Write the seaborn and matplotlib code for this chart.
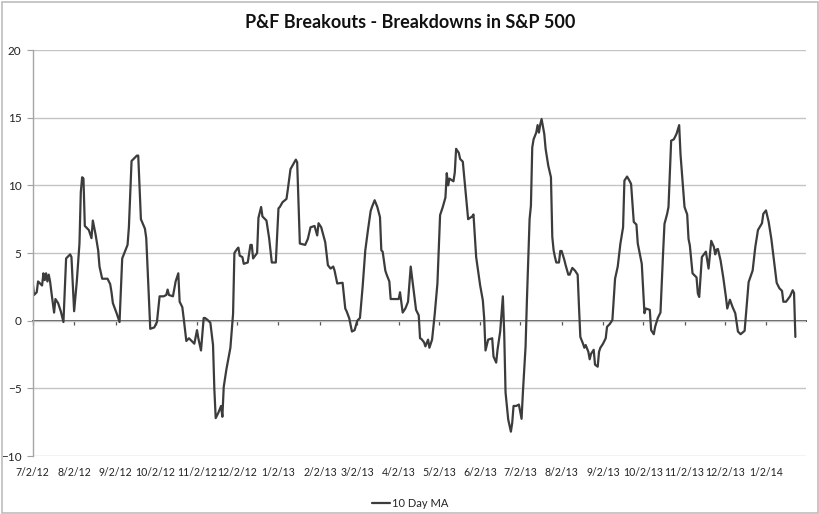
"""P&F breakouts minus breakdowns in the S&P 500, 10 day moving average.

Rebuilds an Excel style line chart with seaborn on a date axis.
"""

import matplotlib
matplotlib.use('Agg')
import matplotlib.pyplot as plt
from matplotlib.patches import Rectangle
import numpy as np
import pandas as pd
import seaborn as sns


title = 'P&F Breakouts - Breakdowns in S&P 500'
series_name = '10 Day MA'
start_date = '2012-07-02'
end_date = '2014-02-01'

# calendar days since start_date
day_offsets = [
    0, 1, 3, 4, 7, 8, 9, 10, 11, 12, 13, 14, 16, 17, 19, 21, 23, 25, 28, 29,
    31, 33, 35, 36, 37, 38, 39, 42, 43, 44, 45, 47, 49, 50, 52, 56, 58, 59, 60, 63,
    65, 67, 69, 71, 72, 74, 75, 78, 79, 81, 84, 85, 88, 91, 93, 95, 98, 100, 101, 102,
    105, 107, 109, 110, 112, 113, 115, 117, 120, 121, 123, 124, 126, 128, 129, 131, 133, 135, 136, 137,
    139, 141, 142, 143, 145, 148, 150, 151, 153, 154, 155, 157, 158, 161, 163, 164, 165, 168, 169, 171,
    172, 175, 177, 179, 182, 184, 185, 187, 190, 191, 193, 197, 198, 200, 204, 206, 208, 211, 213, 214,
    216, 219, 221, 223, 225, 226, 228, 232, 234, 235, 237, 239, 241, 243, 245, 247, 249, 251, 253, 254,
    256, 258, 260, 261, 262, 264, 265, 267, 268, 270, 274, 275, 277, 279, 281, 283, 284, 287, 289, 290,
    291, 293, 294, 296, 297, 299, 301, 303, 305, 307, 309, 310, 311, 312, 315, 316, 317, 319, 320, 322,
    324, 326, 329, 330, 332, 335, 337, 338, 339, 341, 344, 345, 347, 348, 350, 352, 353, 354, 356, 358,
    359, 360, 362, 364, 366, 367, 369, 370, 372, 373, 374, 375, 377, 378, 379, 380, 381, 383, 384, 386,
    388, 389, 390, 391, 392, 394, 395, 396, 398, 399, 401, 402, 404, 406, 408, 409, 410, 412, 413, 414,
    416, 417, 418, 420, 421, 423, 424, 425, 427, 429, 430, 432, 434, 436, 438, 440, 442, 443, 445, 447,
    448, 450, 452, 453, 456, 458, 459, 462, 463, 465, 466, 468, 470, 472, 473, 475, 476, 478, 480, 482,
    484, 485, 487, 488, 490, 491, 492, 494, 497, 498, 499, 501, 504, 506, 508, 510, 511, 512, 513, 515,
    517, 519, 520, 522, 524, 526, 528, 530, 533, 536, 539, 541, 543, 546, 547, 549, 551, 553, 555, 557,
    559, 561, 562, 564, 567, 569, 570, 571,
]

ma_values = [
    2.8, 1.9, 2.1, 2.9, 2.6, 3.5, 3.0, 3.5, 2.9, 3.4, 2.9, 2.1, 0.6, 1.6, 1.3, 0.7, -0.1, 4.6, 4.9, 4.7,
    0.7, 2.9, 5.7, 9.5, 10.6, 10.5, 7.0, 6.7, 6.4, 6.1, 7.4, 6.4, 5.2, 4.0, 3.1, 3.1, 2.7, 2.1, 1.3, 0.5,
    -0.1, 4.6, 5.1, 5.6, 6.9, 11.8, 11.9, 12.2, 12.2, 7.5, 6.8, 6.1, -0.6, -0.5, -0.1, 1.8, 1.8, 1.9, 2.3, 1.9,
    1.8, 2.9, 3.5, 1.4, 1.0, 0.2, -1.5, -1.3, -1.6, -1.7, -0.7, -1.3, -2.2, 0.2, 0.2, 0.05, -0.15, -1.8, -5.1, -7.2,
    -6.8, -6.3, -7.1, -4.9, -3.6, -2.0, 0.5, 5.0, 5.3, 5.4, 4.8, 4.7, 4.2, 4.3, 5.6, 5.6, 4.6, 5.0, 7.6, 8.4,
    7.7, 7.4, 6.1, 4.3, 4.3, 8.3, 8.4, 8.75, 9.0, 9.7, 11.2, 11.9, 11.7, 5.7, 5.6, 6.05, 6.9, 7.0, 6.3, 7.2,
    6.9, 5.8, 4.1, 3.85, 4.0, 3.7, 2.75, 2.8, 0.9, 0.7, 0.17, -0.8, -0.7, 0.0, 0.2, 2.5, 5.2, 6.7, 8.1, 8.4,
    8.9, 8.4, 7.65, 5.2, 5.1, 3.7, 3.4, 2.9, 1.6, 1.6, 1.6, 2.1, 0.6, 0.9, 1.4, 4.0, 3.2, 0.8, 0.4, -1.3,
    -1.35, -1.6, -1.9, -1.4, -2.0, -1.4, 0.5, 2.75, 7.8, 8.4, 9.1, 10.9, 10.0, 10.5, 10.3, 10.95, 12.7, 12.4, 11.95, 11.75,
    9.6, 7.5, 7.7, 7.85, 4.7, 2.6, 1.5, 0.2, -2.2, -1.4, -1.3, -2.65, -3.1, -2.15, -0.8, 1.8, -0.9, -5.3, -7.3, -8.2,
    -7.55, -6.3, -6.3, -6.2, -7.25, -5.3, -1.9, 1.5, 7.5, 8.5, 12.8, 13.4, 13.9, 14.45, 13.9, 14.5, 14.9, 13.8, 12.7, 11.45,
    10.6, 6.2, 5.2, 4.7, 4.3, 4.3, 5.15, 5.15, 4.5, 4.1, 3.4, 3.4, 3.9, 3.7, 3.4, 1.0, -1.2, -1.7, -2.0, -1.8,
    -2.3, -2.85, -2.45, -2.15, -3.25, -3.4, -2.3, -2.0, -1.7, -1.3, -0.45, -0.25, 0.05, 3.1, 4.0, 5.7, 6.9, 10.35, 10.65, 10.3,
    10.1, 7.3, 7.1, 5.7, 4.2, 0.55, 0.9, 0.8, -0.7, -1.0, -0.45, 0.2, 0.6, 5.1, 7.15, 7.9, 8.4, 13.3, 13.4, 13.8,
    14.45, 12.3, 9.7, 8.4, 7.85, 6.05, 5.55, 3.5, 3.2, 2.0, 1.75, 4.7, 5.1, 3.85, 5.9, 5.45, 4.9, 5.25, 5.3, 4.45,
    3.2, 1.75, 0.9, 1.55, 1.0, 0.55, -0.8, -1.0, -0.75, 2.85, 3.7, 5.45, 6.7, 7.2, 7.9, 8.15, 7.3, 6.05, 4.45, 2.8,
    2.4, 2.2, 1.4, 1.4, 1.8, 2.25, 2.05, -1.2,
]

tick_labels = [
    '7/2/12', '8/2/12', '9/2/12', '10/2/12', '11/2/12', '12/2/12', '1/2/13',
    '2/2/13', '3/2/13', '4/2/13', '5/2/13', '6/2/13', '7/2/13', '8/2/13',
    '9/2/13', '10/2/13', '11/2/13', '12/2/13', '1/2/14',
]
y_ticks = [-10, -5, 0, 5, 10, 15, 20]


def build_frame():
    dates = pd.Timestamp(start_date) + pd.to_timedelta(day_offsets, unit='D')
    return pd.DataFrame({'date': dates, 'value': ma_values})


def plot_chart(df, out_path='out.png'):
    sns.set_theme(style='white')
    plt.rcParams['font.family'] = ['Lato', 'DejaVu Sans']

    fig = plt.figure(figsize=(8.2, 5.14), dpi=100)
    ax = fig.add_axes([0.0399, 0.1128, 0.9431, 0.7899])

    sns.lineplot(data=df, x='date', y='value', ax=ax, color='#3c3c3c',
                 linewidth=1.6, label=series_name)

    ax.set_ylim(y_ticks[0], y_ticks[-1])
    ax.set_xlim(pd.Timestamp(start_date), pd.Timestamp(end_date))
    ax.set_yticks(y_ticks)
    ax.grid(axis='y', color='#c4c4c4', linewidth=1.0)
    ax.set_axisbelow(True)

    tick_pos = pd.to_datetime(tick_labels, format='%m/%d/%y')
    ax.set_xticks(tick_pos)
    ax.set_xticklabels(tick_labels)
    ax.tick_params(axis='x', length=0, pad=8, labelsize=7.6, labelcolor='#222222')
    ax.tick_params(axis='y', left=True, length=4, width=0.8, color='#a0a0a0',
                   pad=4, labelsize=8.5, labelcolor='#222222')
    ax.set_xlabel('')
    ax.set_ylabel('')

    for side in ['top', 'right', 'bottom']:
        ax.spines[side].set_visible(False)
    ax.spines['left'].set_color('#a6a6a6')
    ax.spines['left'].set_linewidth(1.0)

    # horizontal axis crosses at zero, with small month ticks on it
    zero_axis = ax.secondary_xaxis(0, transform=ax.transData)
    zero_axis.set_xticks(tick_pos)
    zero_axis.set_xticklabels([])
    zero_axis.tick_params(axis='x', length=3, width=0.9, color='#555555', direction='out')
    zero_axis.spines['bottom'].set_color('#5a5a5a')
    zero_axis.spines['bottom'].set_linewidth(1.4)

    ax.get_legend().remove()
    handles, labels = ax.get_legend_handles_labels()
    fig.legend(handles, labels, loc='center', bbox_to_anchor=(0.5, 0.02),
               frameon=False, fontsize=8, handlelength=1.6, handletextpad=0.2)

    fig.suptitle(title, x=0.5, y=0.972, fontsize=13, fontweight='bold', color='#111111')

    fig.patches.append(Rectangle((0.002, 0.002), 0.996, 0.994, transform=fig.transFigure,
                                 fill=False, edgecolor='#bdbdbd', linewidth=1.2))

    fig.savefig(out_path, dpi=100)
    plt.close(fig)


if __name__ == '__main__':
    plot_chart(build_frame())
